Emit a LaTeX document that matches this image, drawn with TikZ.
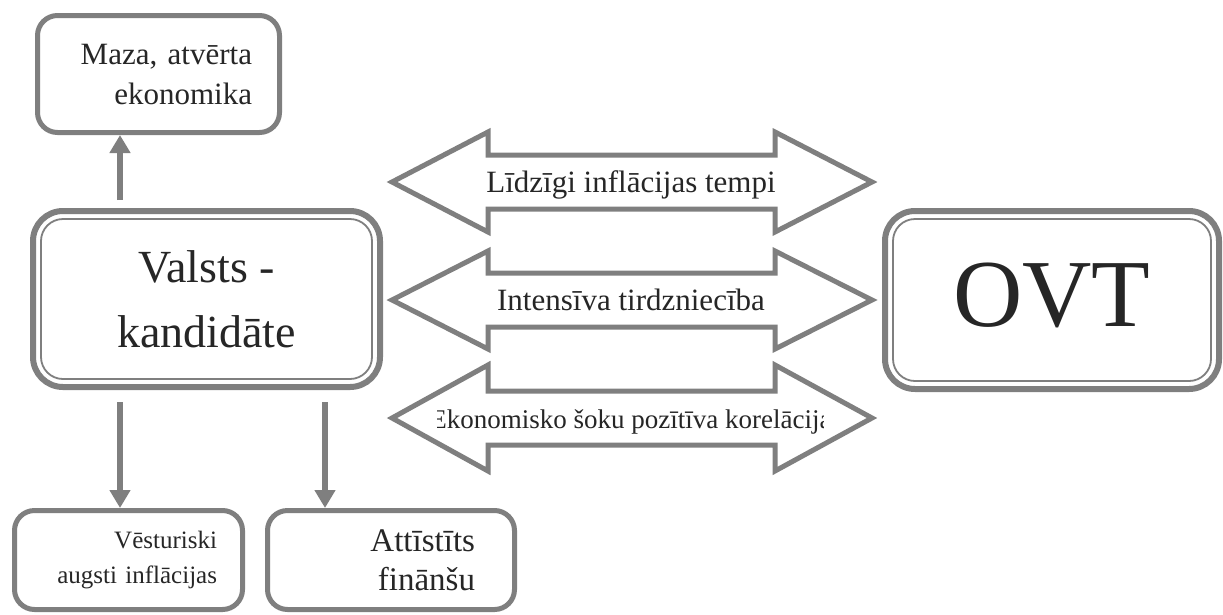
\documentclass[tikz,border=0pt]{standalone}
\usepackage{fontspec}
\setmainfont{Liberation Serif}
\usetikzlibrary{arrows.meta}
\definecolor{ink}{HTML}{262626}
\definecolor{edge}{HTML}{7F7F7F}

\begin{document}
\begin{tikzpicture}[
    x=1pt, y=-1pt,
    box/.style={draw=edge, line width=5pt, rounded corners=20pt, fill=white, text=ink, inner sep=0pt},
    bigbox/.style={box, line width=6pt, rounded corners=30pt},
    rim/.style={draw=edge, line width=1.8pt, rounded corners=22pt},
    band/.style={draw=edge, line width=5pt, fill=white},
    tag/.style={text=ink, anchor=base, inner sep=0pt},
    link/.style={draw=edge, line width=6pt, -{Triangle[length=18pt, width=20pt]}}
]

% Canvas in pixel units, y pointing down.
\useasboundingbox (0,0) rectangle (1223,614);

% Two-way block arrows between candidate and union.
\foreach \cy/\hh/\fs/\id/\txt in {182/50/31/same/{Līdzīgi inflācijas tempi},
                                  300/49/31/trade/{Intensīva tirdzniecība},
                                  418/53/27/shock/{Ekonomisko šoku pozītīva korelācija}} {
    \draw[band] (392,\cy) -- (488,{\cy-\hh}) -- (488,{\cy-27}) -- (775,{\cy-27})
        -- (775,{\cy-\hh}) -- (872,\cy) -- (775,{\cy+\hh}) -- (775,{\cy+27})
        -- (488,{\cy+27}) -- (488,{\cy+\hh}) -- cycle;
    \begin{scope}
        \clip (437,{\cy-40}) rectangle (823,{\cy+40});
        \node[tag, font=\fontsize{\fs}{37}\selectfont] (\id) at (631,{\cy+10}) {\txt};
    \end{scope}
}

% Main boxes.
\node[bigbox, minimum width=347pt, minimum height=176pt, align=center,
      font=\fontsize{46}{65}\selectfont] (valsts) at (206.5,299) {Valsts -\\kandidāte};
\draw[rim] ([shift={(11,11)}]valsts.north west) rectangle ([shift={(-11,-11)}]valsts.south east);

\node[bigbox, minimum width=334pt, minimum height=178pt, text depth=10pt,
      font=\fontsize{96}{110}\selectfont] (ovt) at (1052,300) {OVT};
\draw[rim] ([shift={(11,11)}]ovt.north west) rectangle ([shift={(-11,-11)}]ovt.south east);

% Features of the candidate.
\node[box, minimum width=242pt, minimum height=117pt, text width=187pt, align=right,
      font=\fontsize{31}{40}\selectfont] (maza) at (158.5,74) {Maza, atvērta\\ekonomika};
\node[box, minimum width=228pt, minimum height=99pt, text width=177pt, align=right,
      font=\fontsize{25}{35}\selectfont] (hist) at (128.5,560) {Vēsturiski\\augsti inflācijas};
\node[box, minimum width=247pt, minimum height=99pt, text width=168pt, align=right,
      font=\fontsize{33}{39}\selectfont] (fin) at (391,560) {Attīstīts\\finānšu};

% Links.
\coordinate (colA) at (120,0);
\coordinate (colB) at (325,0);
\draw[link] ([yshift=8pt]valsts.north -| colA) -- (maza.south -| colA);
\draw[link] ([yshift=-12pt]valsts.south -| colA) -- (hist.north -| colA);
\draw[link] ([yshift=-12pt]valsts.south -| colB) -- (fin.north -| colB);

\end{tikzpicture}
\end{document}
